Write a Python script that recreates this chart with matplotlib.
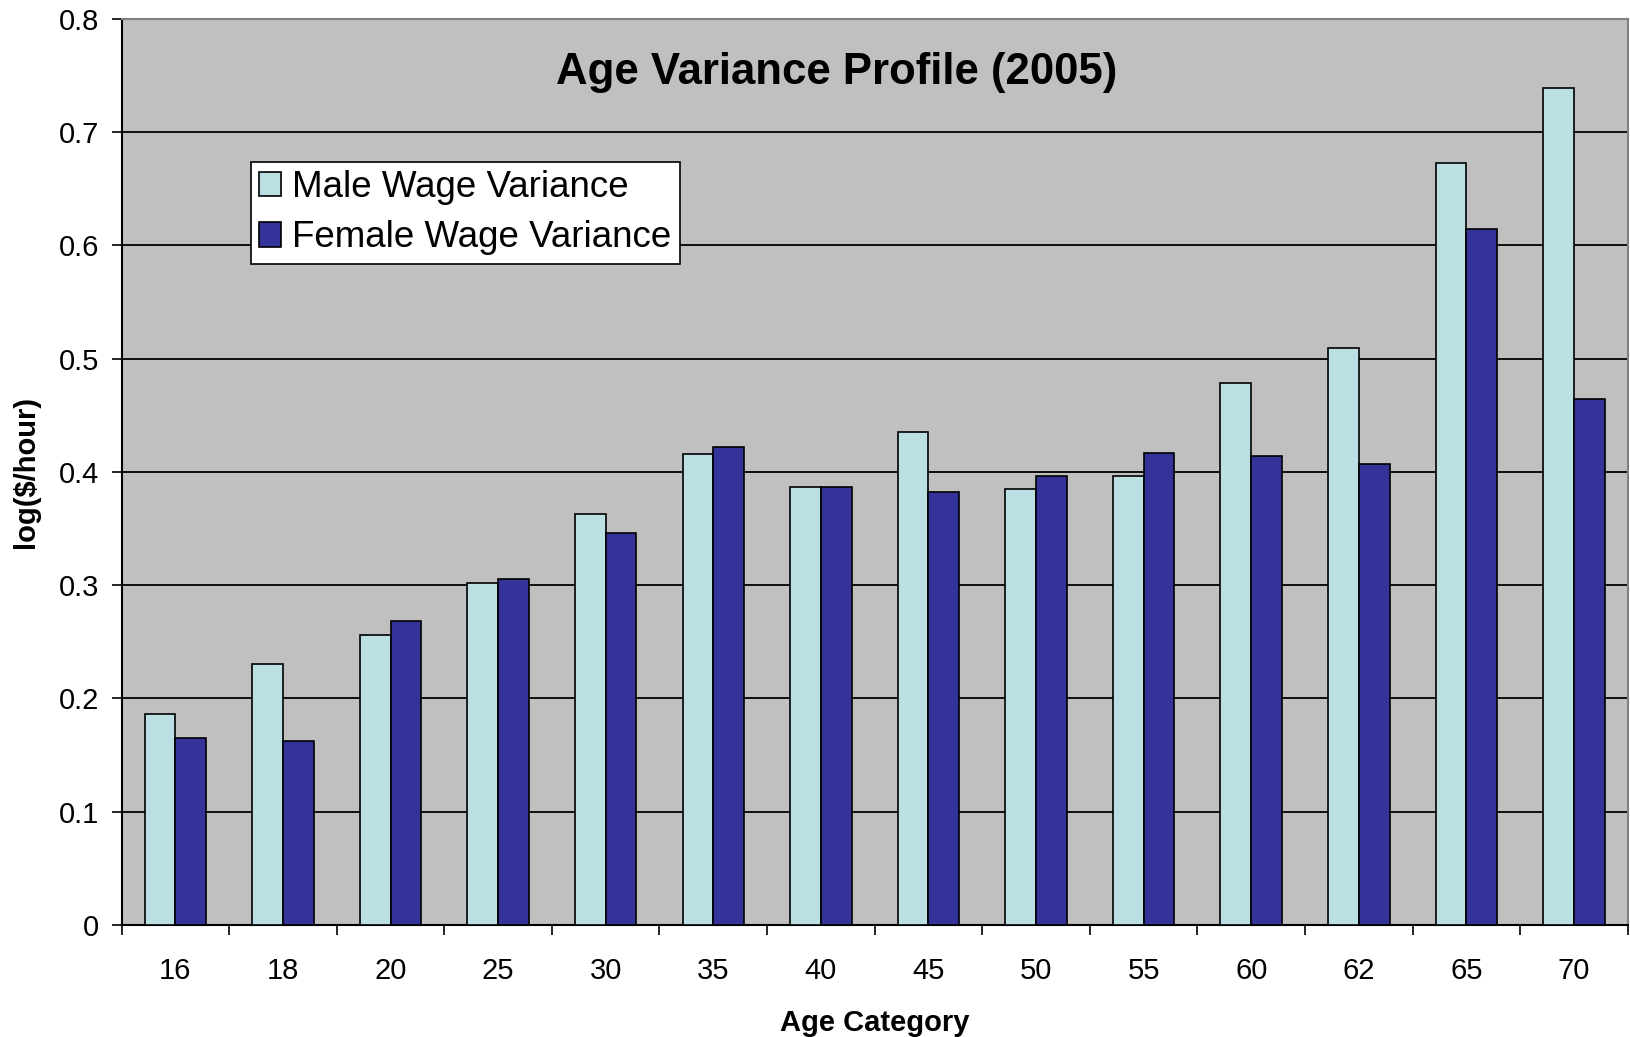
import matplotlib
matplotlib.use("Agg")
import matplotlib.pyplot as plt
import numpy as np

# Age categories and variances
age_categories = ["16", "18", "20", "25", "30", "35", "40",
                  "45", "50", "55", "60", "62", "65", "70"]
male_variance = [0.186, 0.230, 0.256, 0.302, 0.363, 0.416, 0.387,
                 0.435, 0.385, 0.396, 0.478, 0.509, 0.673, 0.739]
female_variance = [0.165, 0.162, 0.268, 0.305, 0.346, 0.422, 0.387,
                   0.382, 0.396, 0.417, 0.414, 0.407, 0.614, 0.464]
y_ticks = [0, 0.1, 0.2, 0.3, 0.4, 0.5, 0.6, 0.7, 0.8]

plt.rcParams["font.family"] = ["Liberation Sans", "DejaVu Sans"]

fig = plt.figure(figsize=(16.3, 10.37), dpi=100)
ax = fig.add_axes([0.0746, 0.108, 0.924, 0.874])
ax.set_facecolor("#C0C0C0")

x = np.arange(len(age_categories))
width = 1 / 3.5

ax.bar(x - width / 2, male_variance, width, color="#BBE0E3",
       edgecolor="black", linewidth=1.2, label="Male Wage Variance", zorder=3)
ax.bar(x + width / 2, female_variance, width, color="#333399",
       edgecolor="black", linewidth=1.2, label="Female Wage Variance", zorder=3)

ax.set_xlim(-0.5, len(age_categories) - 0.5)
ax.set_ylim(0, 0.8)
ax.set_yticks(y_ticks)
ax.set_yticklabels([f"{t:g}" for t in y_ticks])
ax.yaxis.grid(True, color="black", linewidth=1.3, zorder=1)
ax.set_axisbelow(True)

# category labels centered, tick marks between categories
ax.set_xticks(x)
ax.set_xticklabels(age_categories)
ax.set_xticks(np.arange(-0.5, len(age_categories)), minor=True)
ax.tick_params(axis="x", which="major", length=0, pad=23, labelsize=21)
ax.tick_params(axis="x", which="minor", length=7, width=1.2, direction="out")
ax.tick_params(axis="y", length=7, width=1.2, pad=9, labelsize=21)

for side in ["left", "bottom"]:
    ax.spines[side].set_color("black")
    ax.spines[side].set_linewidth(1.5)
for side in ["top", "right"]:
    ax.spines[side].set_color("#808080")
    ax.spines[side].set_linewidth(1.5)

ax.set_xlabel("Age Category", fontsize=21, fontweight="bold", labelpad=17)
ax.set_ylabel("log($/hour)", fontsize=21, fontweight="bold", labelpad=14)

ax.text(0.475, 0.941, "Age Variance Profile (2005)", transform=ax.transAxes,
        ha="center", va="center", fontsize=31.5, fontweight="bold", zorder=5)

leg = ax.legend(
    loc="upper left", bbox_to_anchor=(0.086, 0.842),
    borderaxespad=0, fontsize=26.5, fancybox=False, framealpha=1,
    edgecolor="black", handlelength=0.6, handleheight=0.65,
    handletextpad=0.3, labelspacing=0.42, borderpad=0.22)
leg.get_frame().set_linewidth(1.2)
leg.set_zorder(6)

fig.savefig("out.png", dpi=100)
